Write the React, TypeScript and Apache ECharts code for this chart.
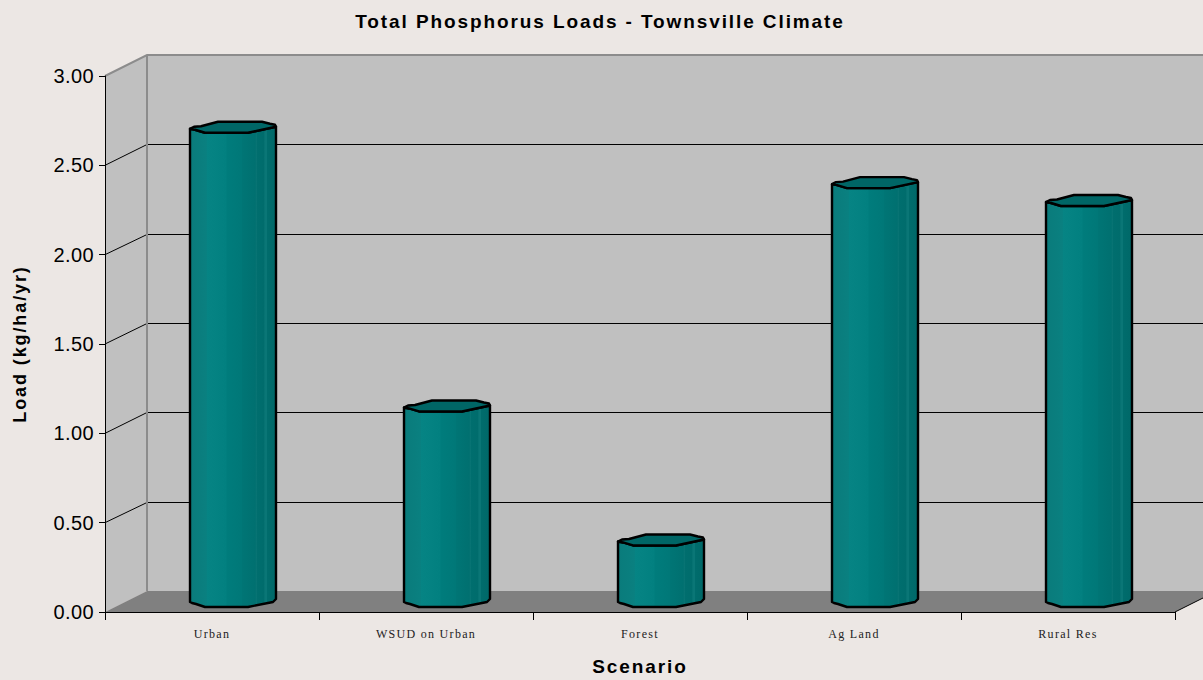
import React, { useEffect, useRef } from "react";
import * as echarts from "echarts";

const categories = ["Urban", "WSUD on Urban", "Forest", "Ag Land", "Rural Res"];
const loads = [2.66, 1.1, 0.35, 2.35, 2.25];
const yTicks = [0, 0.5, 1, 1.5, 2, 2.5, 3];

const DX = 42;
const DY = 21;
const BG = "#ece7e4";

const bodyStops = [
  [0, "#0a7676"], [0.03, "#0a7c7c"], [0.19, "#0a8080"], [0.2, "#068484"], [0.42, "#028080"], [0.43, "#007c7c"],
  [0.6, "#007878"], [0.61, "#007575"], [0.76, "#007070"], [0.77, "#0b7676"], [0.78, "#006e6e"], [0.86, "#006c6c"],
  [0.87, "#0a7676"], [0.89, "#0a7676"], [0.9, "#006c6c"], [1, "#006868"],
].map(([offset, color]) => ({ offset: offset as number, color: color as string }));

function renderWalls(params: any, api: any) {
  const cs = params.coordSys;
  const x0 = cs.x;
  const x1 = cs.x + cs.width;
  const yTop = cs.y;
  const yBase = cs.y + cs.height;
  const children: any[] = [
    { type: "polygon", shape: { points: [[x0 + DX, yTop - DY], [x1 + DX, yTop - DY], [x1 + DX, yBase - DY], [x0 + DX, yBase - DY]] }, style: { fill: "#c0c0c0" } },
    { type: "polygon", shape: { points: [[x0, yTop], [x0 + DX, yTop - DY], [x0 + DX, yBase - DY], [x0, yBase]] }, style: { fill: "#c0c0c0" } },
    { type: "polygon", shape: { points: [[x0, yBase], [x0 + DX, yBase - DY], [x1 + DX, yBase - DY], [x1, yBase]] }, style: { fill: "#808080" } },
  ];
  yTicks.slice(1, -1).forEach((v) => {
    const y = api.coord([0, v])[1];
    const yb = Math.round(y - DY) + 0.5;
    children.push({ type: "polyline", shape: { points: [[x0, y], [x0 + DX, yb], [x1 + DX, yb]] }, style: { fill: "none", stroke: "#000", lineWidth: 1 } });
  });
  children.push(
    { type: "polyline", shape: { points: [[x0, yTop], [x0 + DX, yTop - DY], [x1 + DX, yTop - DY]] }, style: { fill: "none", stroke: "#8c8c8c", lineWidth: 2 } },
    { type: "line", shape: { x1: x0 + DX, y1: yTop - DY, x2: x0 + DX, y2: yBase - DY }, style: { stroke: "#8c8c8c", lineWidth: 2 } },
    { type: "line", shape: { x1: x1, y1: yBase, x2: x1 + DX, y2: yBase - DY }, style: { stroke: "#000", lineWidth: 1 } },
    { type: "line", shape: { x1: x1 + 0.5, y1: yBase, x2: x1 + 0.5, y2: yBase + 8 }, style: { stroke: "#808080", lineWidth: 1 } },
  );
  return { type: "group", children };
}

function renderBar(params: any, api: any) {
  const p = api.coord([api.value(0), api.value(1)]);
  const base = api.coord([api.value(0), 0]);
  const cx = p[0] + DX / 2;
  const yt = p[1] - 9;
  const yb = base[1] - 9;
  const top = (pts: number[][]) => pts.map(([a, b]) => [cx + a, yt + b]);
  const bot = (pts: number[][]) => pts.map(([a, b]) => [cx + a, yb + b]);
  const front = [[43, -1], [29, 2], [15, 5], [-28, 5], [-38, 2], [-43, 1]];
  const back = [[-43, 1], [-39, -1], [-32, -1.5], [-15, -6], [29, -6], [37, -4], [42, -3], [43, -1]];
  const bottom = [[43, -4], [40, -1], [15, 4], [-28, 4], [-37, 1], [-41, 0], [-43, -1]];
  const line = { stroke: "#000", lineWidth: 2.4, lineJoin: "round" };
  return {
    type: "group",
    children: [
      {
        type: "polygon",
        shape: { points: [...top(front), ...bot(bottom.slice().reverse())] },
        style: { fill: new echarts.graphic.LinearGradient(0, 0, 1, 0, bodyStops), ...line },
      },
      {
        type: "polygon",
        shape: { points: [...top(back), ...top(front)] },
        style: { fill: "#006666", ...line },
      },
    ],
  };
}

const css = `
#chart text[style*="Serif"] { letter-spacing: 1.3px; }
#chart text[style*="bold"] { letter-spacing: 1.9px; }
#chart text[style*="20px"] { letter-spacing: 0.4px; }
`;

export default function App() {
  const ref = useRef<HTMLDivElement>(null);
  useEffect(() => {
    document.body.style.margin = "0";
    document.body.style.background = BG;
    const chart = echarts.init(ref.current!, undefined, { renderer: "svg" });
    chart.setOption({
      animation: false,
      backgroundColor: BG,
      textStyle: { fontFamily: "Liberation Sans" },
      title: {
        text: "Total Phosphorus Loads - Townsville Climate",
        left: 595,
        textAlign: "center",
        top: 7,
        textStyle: { fontFamily: "Liberation Sans", fontWeight: "bold", fontSize: 19, color: "#000" },
      },
      grid: { left: 105, top: 76, width: 1070, height: 536, outerBoundsMode: "none" },
      xAxis: {
        type: "category",
        data: categories,
        z: 5,
        name: "Scenario",
        nameLocation: "middle",
        nameGap: 45,
        nameTextStyle: { fontFamily: "Liberation Sans", fontWeight: "bold", fontSize: 19, color: "#000" },
        axisLine: { lineStyle: { color: "#000", width: 1 } },
        axisTick: { show: true, alignWithLabel: false, length: 8, lineStyle: { color: "#000" } },
        axisLabel: { fontFamily: "Liberation Serif", fontSize: 12, color: "#222", margin: 16 },
      },
      yAxis: {
        type: "value",
        min: 0,
        max: 3,
        interval: 0.5,
        z: 5,
        name: "Load (kg/ha/yr)",
        nameLocation: "middle",
        nameGap: 76,
        nameTextStyle: { fontFamily: "Liberation Sans", fontWeight: "bold", fontSize: 18, color: "#000" },
        splitLine: { show: false },
        axisLine: { show: true, lineStyle: { color: "#000", width: 1 } },
        axisTick: { show: true, length: 6, lineStyle: { color: "#000" } },
        axisLabel: { fontFamily: "Liberation Sans", fontSize: 20, color: "#000", margin: 11, formatter: (v: number) => v.toFixed(2) },
      },
      series: [
        { type: "custom", z: 1, silent: true, clip: false, renderItem: renderWalls, data: [[0, 0]] },
        { type: "custom", z: 3, silent: true, clip: false, renderItem: renderBar, data: loads.map((v, i) => [i, v]) },
      ],
    });
    return () => chart.dispose();
  }, []);
  return (
    <>
      <style>{css}</style>
      <div id="chart" ref={ref} style={{ width: 1203, height: 680 }} />
    </>
  );
}
